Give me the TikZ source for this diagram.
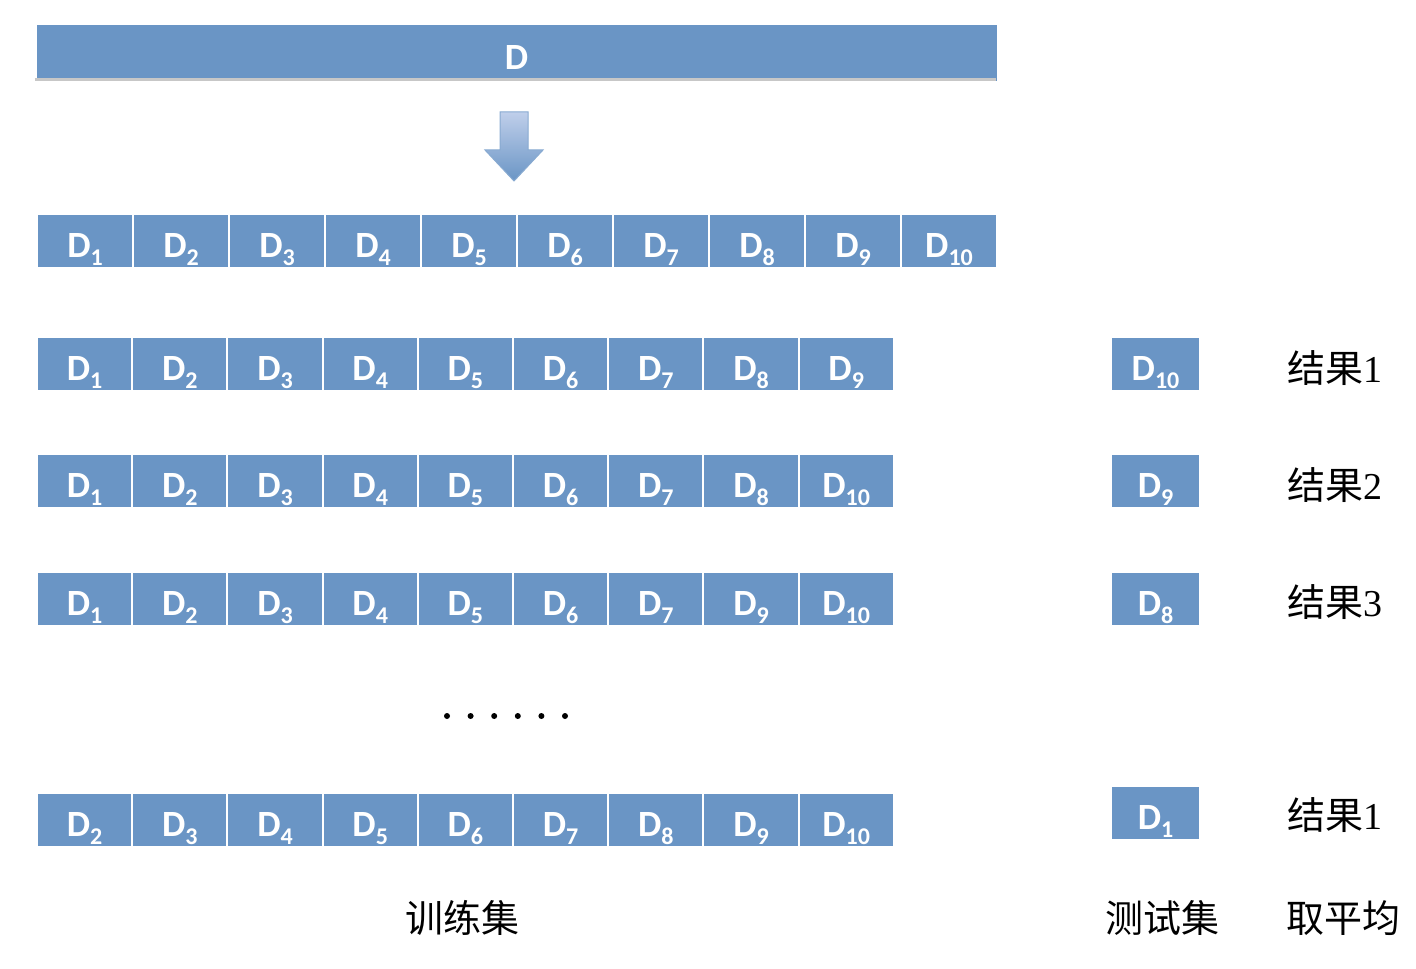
\documentclass[tikz,border=0pt]{standalone}
\usepackage{fontspec}
\setmainfont{Liberation Serif}
\setsansfont{Carlito}
\newfontfamily\cjk{Noto Sans CJK SC}
\usetikzlibrary{shapes,backgrounds}
\definecolor{cellblue}{RGB}{106,149,197}
\newcommand\Dsub[1]{D\raisebox{-0.5ex}{\fontsize{12}{12}\selectfont#1}}

\begin{document}
\begin{tikzpicture}[x=0.5pt,y=-0.5pt,
		cell/.style={draw=white,line width=1pt,fill=cellblue,inner sep=0pt,minimum height=27pt,
			text height=16pt,text depth=0pt,text=white,font=\sffamily\bfseries\fontsize{18.5}{18.5}\selectfont},
		tag/.style={font=\fontsize{19}{19}\selectfont}]
		\useasboundingbox (0,0) rectangle (1416,968);
		\def\downarrow{(500,112) -- (528,112) -- (528,150) -- (543,150) -- (514,181) -- (485,150) -- (500,150) -- cycle}
		% whole data set
		\node[cell,minimum width=481pt,minimum height=29pt] (all) at (516.5,53.5) {D};
		\draw[black!22,line width=1.2pt] (all.south west) ++(0,-4) -- ++(961,0);
		\shade[top color=blue!10!cellblue!40,bottom color=cellblue,draw=cellblue!80,line width=0.5pt] \downarrow;
		% ten folds
		\foreach \i in {1,...,10}
			\node[cell,minimum width=48pt] (fold\i) at ({37+96*(\i-0.5)},241) {\Dsub{\i}};
		% training sets, test sets and results
		\foreach \r/\y/\lst in {1/364/{1,2,3,4,5,6,7,8,9},2/481/{1,2,3,4,5,6,7,8,10},3/599/{1,2,3,4,5,6,7,9,10},10/820/{2,3,4,5,6,7,8,9,10}}
			\foreach \k [count=\i] in \lst
				\node[cell,minimum width=47.6pt] (train\r-\i) at ({37+95.2*(\i-0.5)},\y) {\Dsub{\k}};
		\foreach \r/\y/\k in {1/364/10,2/481/9,3/599/8,10/813/1}
			\node[cell,minimum width=44.5pt] (test\r) at (1155.5,\y) {\Dsub{\k}};
		\foreach \r/\y/\k in {1/368/1,2/485/2,3/602/3,10/815/1}
			\node[tag] (result\r) at (1335,\y) {{\cjk 结果}\k};
		\foreach \i in {0,...,5}
			\fill ({447+23.6*\i},716) circle (3);
		\node[tag] (trainset) at (462,918) {\cjk 训练集};
		\node[tag] (testset) at (1162,918) {\cjk 测试集};
		\node[tag] (average) at (1343,918) {\cjk 取平均};
	\end{tikzpicture}
\end{document}
